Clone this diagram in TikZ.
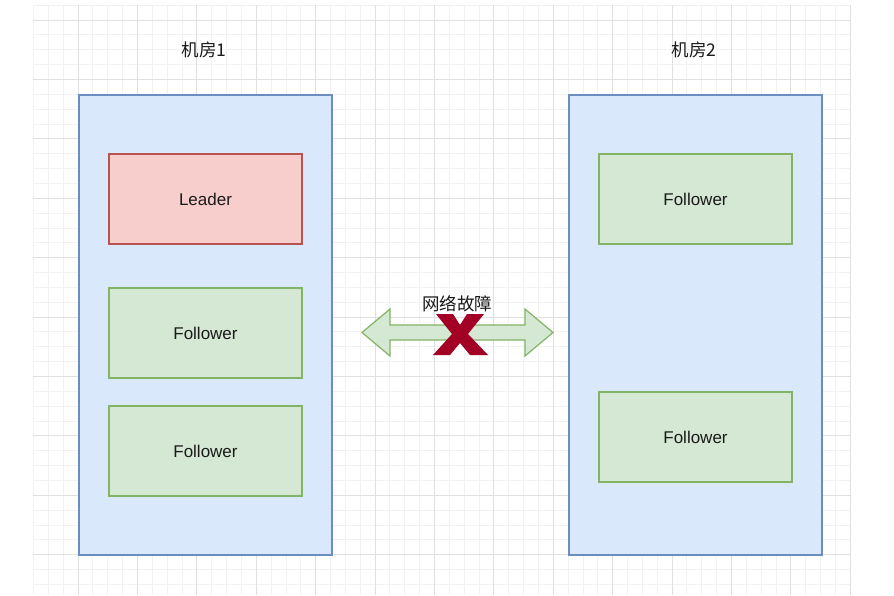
\documentclass[tikz,border=0pt]{standalone}
\usepackage{fontspec}
\setmainfont{Liberation Sans}
\newfontfamily\cjk{Noto Sans CJK SC}
\definecolor{roomfill}{RGB}{218,232,252}
\definecolor{roomline}{RGB}{108,142,191}
\definecolor{leadfill}{RGB}{248,206,204}
\definecolor{leadline}{RGB}{184,84,80}
\definecolor{follfill}{RGB}{213,232,212}
\definecolor{follline}{RGB}{130,179,102}
\definecolor{xred}{RGB}{162,0,37}
\definecolor{minorc}{RGB}{242,242,242}
\definecolor{majorc}{RGB}{224,224,224}
\definecolor{txt}{RGB}{26,26,26}
\begin{document}
\begin{tikzpicture}[x=1pt,y=-1pt,
  room/.style={draw=roomline, fill=roomfill, line width=1.3pt, minimum width=253pt, minimum height=460pt, inner sep=0pt},
  leadbox/.style={draw=leadline, fill=leadfill, line width=1.3pt, minimum width=193pt, minimum height=90pt, inner sep=0pt, text=txt, font=\fontsize{17}{20}\selectfont},
  follbox/.style={draw=follline, fill=follfill, line width=1.3pt, minimum width=193pt, minimum height=90pt, inner sep=0pt, text=txt, font=\fontsize{17}{20}\selectfont},
  lbl/.style={text=txt, inner sep=0pt, font=\cjk\fontsize{17.5}{20}\selectfont},
  minorgrid/.style={draw=minorc, line width=0.8pt},
  majorgrid/.style={draw=majorc, line width=1pt}]
\useasboundingbox (0,0) rectangle (894,595);
\fill[white] (0,0) rectangle (894,595);
% grid
\foreach \k in {-3,...,52} {\draw[minorgrid] ({78+14.85*\k},5) -- ({78+14.85*\k},595);}
\foreach \j in {-1,...,38} {\draw[minorgrid] (33,{20+14.85*\j}) -- (850,{20+14.85*\j});}
\foreach \k in {0,...,13} {\draw[majorgrid] ({78+59.4*\k},5) -- ({78+59.4*\k},595);}
\foreach \j in {0,...,9} {\draw[majorgrid] (33,{20+59.4*\j}) -- (850,{20+59.4*\j});}
% rooms
\node[room] (r1) at (205.5,325) {};
\node[room] (r2) at (695.5,325) {};
\node[lbl] (t1) at (204,50) {机房1};
\node[lbl] (t2) at (694,50) {机房2};
% members
\node[leadbox] (ld) at (205.5,199) {Leader};
\node[follbox] (f1) at (205.5,333) {Follower};
\node[follbox] (f2) at (205.5,451) {Follower};
\node[follbox] (f3) at (695.5,199) {Follower};
\node[follbox] (f4) at (695.5,437) {Follower};
% double arrow
\filldraw[fill=follfill, draw=follline, line width=1.2pt, line join=miter]
  (362,332.5) -- (390,309) -- (390,325) -- (525,325) -- (525,309) -- (553,332.5)
  -- (525,356) -- (525,340) -- (390,340) -- (390,356) -- cycle;
\node[lbl] (fault) at (457,304) {网络故障};
% red X
\fill[xred] (436,314) -- (453,314) -- (460,325) -- (467,314) -- (484,314) -- (468,334)
  -- (488,355) -- (470,355) -- (460,343) -- (450,355) -- (433,355) -- (452,334) -- cycle;
\end{tikzpicture}
\end{document}
